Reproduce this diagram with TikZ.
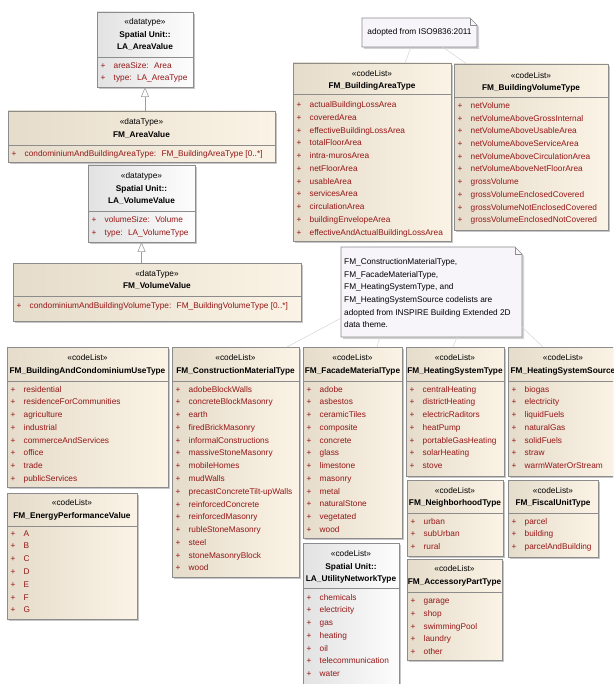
\documentclass[tikz,border=0pt]{standalone}
\usepackage{fontspec}
\setmainfont{Liberation Sans}
\usetikzlibrary{arrows.meta,shadows,calc}
\definecolor{bdr}{RGB}{140,140,140}
\definecolor{cl}{RGB}{229,220,203}
\definecolor{cr}{RGB}{251,243,229}
\definecolor{gl}{RGB}{226,226,226}
\definecolor{gr}{RGB}{253,253,253}
\definecolor{attr}{RGB}{150,22,22}
\definecolor{notefill}{RGB}{247,245,250}
\definecolor{lnk}{RGB}{212,212,212}
\newcommand\fs{\fontsize{8.3}{12.7}\selectfont}
\tikzset{
  ubox/.style={draw=bdr, line width=0.6pt, inner sep=0pt, outer sep=0pt, rectangle,
    drop shadow={shadow xshift=2pt, shadow yshift=-2pt, fill=black!50, opacity=0.45}},
  cls/.style={left color=cl, right color=cr},
  gry/.style={left color=gl, right color=gr},
  hdr/.style={font=\fs, inner sep=0pt, anchor=mid, text=black},
  ttl/.style={font=\fs\bfseries, inner sep=0pt, anchor=mid, text=black},
  plus/.style={font=\fs, inner sep=0pt, anchor=mid, text=attr},
  itm/.style={font=\fs, inner sep=0pt, anchor=mid west, text=attr},
  ntxt/.style={font=\fs, inner sep=0pt, anchor=mid west, text=black},
  divl/.style={draw=bdr, line width=0.6pt},
  gen/.style={draw=bdr!85, line width=0.6pt, -{Triangle[open, length=10pt, width=8pt, fill=white]}},
  lnkl/.style={draw=lnk, line width=0.5pt},
  notebox/.style={inner sep=0pt, outer sep=0pt, rectangle},
  notedraw/.style={draw=bdr, line width=0.6pt, fill=notefill,
    drop shadow={shadow xshift=2pt, shadow yshift=-2pt, fill=black!50, opacity=0.35}}
}
% id, x1, y1, x2, y2, divider y, style
\newcommand\ubox[7]{%
  \node[ubox,#7,minimum width={#4-#2},minimum height={#5-#3},anchor=north west] (#1) at (#2,#3) {};
  \draw[divl] (#2,#6) -- (#4,#6);
}
% id, x1, x2, y, text
\newcommand\ustereo[5]{\node[hdr] (#1) at ({(#2+#3)/2},#4) {#5};}
\newcommand\utitle[5]{\node[ttl] (#1) at ({(#2+#3)/2},#4) {#5};}
% id, x1, y0, step, list
\newcommand\uitems[5]{%
  \foreach \t [count=\i from 0] in {#5} {
    \node[plus] (#1p\i) at ({#2+6},{#3+\i*#4}) {+};
    \node[itm] (#1t\i) at ({#2+16.5},{#3+\i*#4}) {\t};
  }
}
\begin{document}
\begin{tikzpicture}[x=1pt,y=-1pt]
\useasboundingbox (0,0) rectangle (613,684);
\clip (0,0) rectangle (613,684);

% ---------- LA_AreaValue
\ubox{laav}{97}{12}{193}{87}{57}{gry}
\ustereo{laavs}{97}{193}{22}{«datatype»}
\utitle{laavn1}{97}{193}{34.5}{Spatial Unit::}
\utitle{laavn2}{97}{193}{47}{LA\_AreaValue}
\uitems{laav}{97}{65.5}{12.7}{areaSize:~ Area,type:~ LA\_AreaType}

% ---------- FM_AreaValue
\ubox{fmav}{8}{111}{275}{162}{145}{cls}
\ustereo{fmavs}{8}{275}{122}{«dataType»}
\utitle{fmavn}{8}{275}{134.5}{FM\_AreaValue}
\uitems{fmav}{8}{153.5}{12.7}{condominiumAndBuildingAreaType:~ FM\_BuildingAreaType [0..*]}

% ---------- LA_VolumeValue
\ubox{lavv}{88}{165}{195}{242}{211}{gry}
\ustereo{lavvs}{88}{195}{176}{«datatype»}
\utitle{lavvn1}{88}{195}{188.5}{Spatial Unit::}
\utitle{lavvn2}{88}{195}{201}{LA\_VolumeValue}
\uitems{lavv}{88}{220}{12.7}{volumeSize:~ Volume,type:~ LA\_VolumeType}

% ---------- FM_VolumeValue
\ubox{fmvv}{13}{263}{301}{321}{296}{cls}
\ustereo{fmvvs}{13}{301}{273.5}{«dataType»}
\utitle{fmvvn}{13}{301}{286}{FM\_VolumeValue}
\uitems{fmvv}{13}{305.5}{12.7}{condominiumAndBuildingVolumeType:~ FM\_BuildingVolumeType [0..*]}

% generalizations
\draw[gen] (fmav.north -| laav.south) -- (laav.south);
\draw[gen] (fmvv.north -| lavv.south) -- (lavv.south);

% ---------- FM_BuildingAreaType
\ubox{bat}{293}{63}{451}{241}{94}{cls}
\ustereo{bats}{293}{451}{73.5}{«codeList»}
\utitle{batn}{293}{451}{86}{FM\_BuildingAreaType}
\uitems{bat}{293}{105}{12.75}{actualBuildingLossArea,coveredArea,effectiveBuildingLossArea,totalFloorArea,intra-murosArea,netFloorArea,usableArea,servicesArea,circulationArea,buildingEnvelopeArea,effectiveAndActualBuildingLossArea}

% ---------- FM_BuildingVolumeType
\ubox{bvt}{454}{64}{608}{230}{97}{cls}
\ustereo{bvts}{454}{608}{75.5}{«codeList»}
\utitle{bvtn}{454}{608}{88}{FM\_BuildingVolumeType}
\uitems{bvt}{454}{106}{12.67}{netVolume,netVolumeAboveGrossInternal,netVolumeAboveUsableArea,netVolumeAboveServiceArea,netVolumeAboveCirculationArea,netVolumeAboveNetFloorArea,grossVolume,grossVolumeEnclosedCovered,grossVolumeNotEnclosedCovered,grossVolumeEnclosedNotCovered}

% ---------- note 1
\node[notebox, minimum width=115, minimum height=29, anchor=north west] (n1) at (362,18) {};
\draw[notedraw] (n1.north west) -- ([xshift=-7pt]n1.north east) -- ([yshift=-7pt]n1.north east) -- (n1.south east) -- (n1.south west) -- cycle;
\draw[divl] ([xshift=-7pt]n1.north east) |- ([yshift=-7pt]n1.north east);
\node[hdr] (n1t) at ([yshift=0.5pt]n1.center) {adopted from ISO9836:2011};
\draw[lnkl] ($(n1.south west)!0.426!(n1.south east)$) -- ($(bat.north west)!0.709!(bat.north east)$);
\draw[lnkl] ($(n1.south west)!0.70!(n1.south east)$) -- ($(bvt.north west)!0.084!(bvt.north east)$);

% ---------- bottom code lists
\ubox{bcu}{7}{347}{168}{487}{381}{cls}
\ustereo{bcus}{7}{168}{357.5}{«codeList»}
\utitle{bcun}{7}{168}{370.5}{FM\_BuildingAndCondominiumUseType}
\uitems{bcu}{7}{389.5}{12.72}{residential,residenceForCommunities,agriculture,industrial,commerceAndServices,office,trade,publicServices}

\ubox{cmt}{172}{347}{299}{577}{381}{cls}
\ustereo{cmts}{172}{299}{357.5}{«codeList»}
\utitle{cmtn}{172}{299}{370.5}{FM\_ConstructionMaterialType}
\uitems{cmt}{172}{389.5}{12.77}{adobeBlockWalls,concreteBlockMasonry,earth,firedBrickMasonry,informalConstructions,massiveStoneMasonry,mobileHomes,mudWalls,precastConcreteTilt-upWalls,reinforcedConcrete,reinforcedMasonry,rubleStoneMasonry,steel,stoneMasonryBlock,wood}

\ubox{epv}{7}{493}{137}{619}{526}{cls}
\ustereo{epvs}{7}{137}{503}{«codeList»}
\utitle{epvn}{7}{137}{515.5}{FM\_EnergyPerformanceValue}
\uitems{epv}{7}{533.5}{12.8}{A,B,C,D,E,F,G}

\ubox{fmt}{303}{347}{402}{538}{381}{cls}
\ustereo{fmts}{303}{402}{357.5}{«codeList»}
\utitle{fmtn}{303}{402}{370.5}{FM\_FacadeMaterialType}
\uitems{fmt}{303}{389.5}{12.75}{adobe,asbestos,ceramicTiles,composite,concrete,glass,limestone,masonry,metal,naturalStone,vegetated,wood}

\ubox{hst}{406}{347}{504}{476}{381}{cls}
\ustereo{hsts}{406}{504}{357.5}{«codeList»}
\utitle{hstn}{406}{504}{370.5}{FM\_HeatingSystemType}
\uitems{hst}{406}{389.5}{12.75}{centralHeating,districtHeating,electricRaditors,heatPump,portableGasHeating,solarHeating,stove}

\ubox{hss}{508}{347}{618}{476}{381}{cls}
\ustereo{hsss}{508}{618}{357.5}{«codeList»}
\utitle{hssn}{508}{618}{370.5}{FM\_HeatingSystemSource}
\uitems{hss}{508}{389.5}{12.75}{biogas,electricity,liquidFuels,naturalGas,solidFuels,straw,warmWaterOrStream}

\ubox{nbt}{407}{480}{503}{556}{513}{cls}
\ustereo{nbts}{407}{503}{490.5}{«codeList»}
\utitle{nbtn}{407}{503}{503}{FM\_NeighborhoodType}
\uitems{nbt}{407}{521.5}{12.7}{urban,subUrban,rural}

\ubox{fut}{508}{480}{598}{557}{513}{cls}
\ustereo{futs}{508}{598}{490.5}{«codeList»}
\utitle{futn}{508}{598}{503}{FM\_FiscalUnitType}
\uitems{fut}{508}{521.5}{12.7}{parcel,building,parcelAndBuilding}

\ubox{lunt}{303}{543}{399}{700}{588}{gry}
\ustereo{lunts}{303}{399}{553.5}{«codeList»}
\utitle{luntn1}{303}{399}{566.5}{Spatial Unit::}
\utitle{luntn2}{303}{399}{579}{LA\_UtilityNetworkType}
\uitems{lunt}{303}{597.5}{12.75}{chemicals,electricity,gas,heating,oil,telecommunication,water}

\ubox{apt}{407}{559}{502}{660}{592}{cls}
\ustereo{apts}{407}{502}{568.5}{«codeList»}
\utitle{aptn}{407}{502}{581.5}{FM\_AccessoryPartType}
\uitems{apt}{407}{601}{12.75}{garage,shop,swimmingPool,laundry,other}

% ---------- note 2
\node[notebox, minimum width=181, minimum height=90, anchor=north west] (n2) at (341,247) {};
\draw[notedraw] (n2.north west) -- ([xshift=-7pt]n2.north east) -- ([yshift=-7pt]n2.north east) -- (n2.south east) -- (n2.south west) -- cycle;
\draw[divl] ([xshift=-7pt]n2.north east) |- ([yshift=-7pt]n2.north east);
\foreach \t [count=\i from 0] in {{FM\_ConstructionMaterialType,},{FM\_FacadeMaterialType,},{FM\_HeatingSystemType, and},{FM\_HeatingSystemSource codelists are},{adopted from INSPIRE Building Extended 2D},{data theme.}} {
  \node[ntxt] (n2l\i) at (344,{262+\i*12.6}) {\t};
}
\draw[lnkl] ($(n2.north west)!0.79!(n2.south west)$) -- ($(cmt.north west)!0.906!(cmt.north east)$);
\draw[lnkl] ($(n2.south west)!0.215!(n2.south east)$) -- ($(fmt.north west)!0.747!(fmt.north east)$);
\draw[lnkl] ($(n2.south west)!0.641!(n2.south east)$) -- ($(hst.north west)!0.48!(hst.north east)$);
\draw[lnkl] ($(n2.north east)!0.89!(n2.south east)$) -- ($(hss.north west)!0.318!(hss.north east)$);
\end{tikzpicture}
\end{document}
